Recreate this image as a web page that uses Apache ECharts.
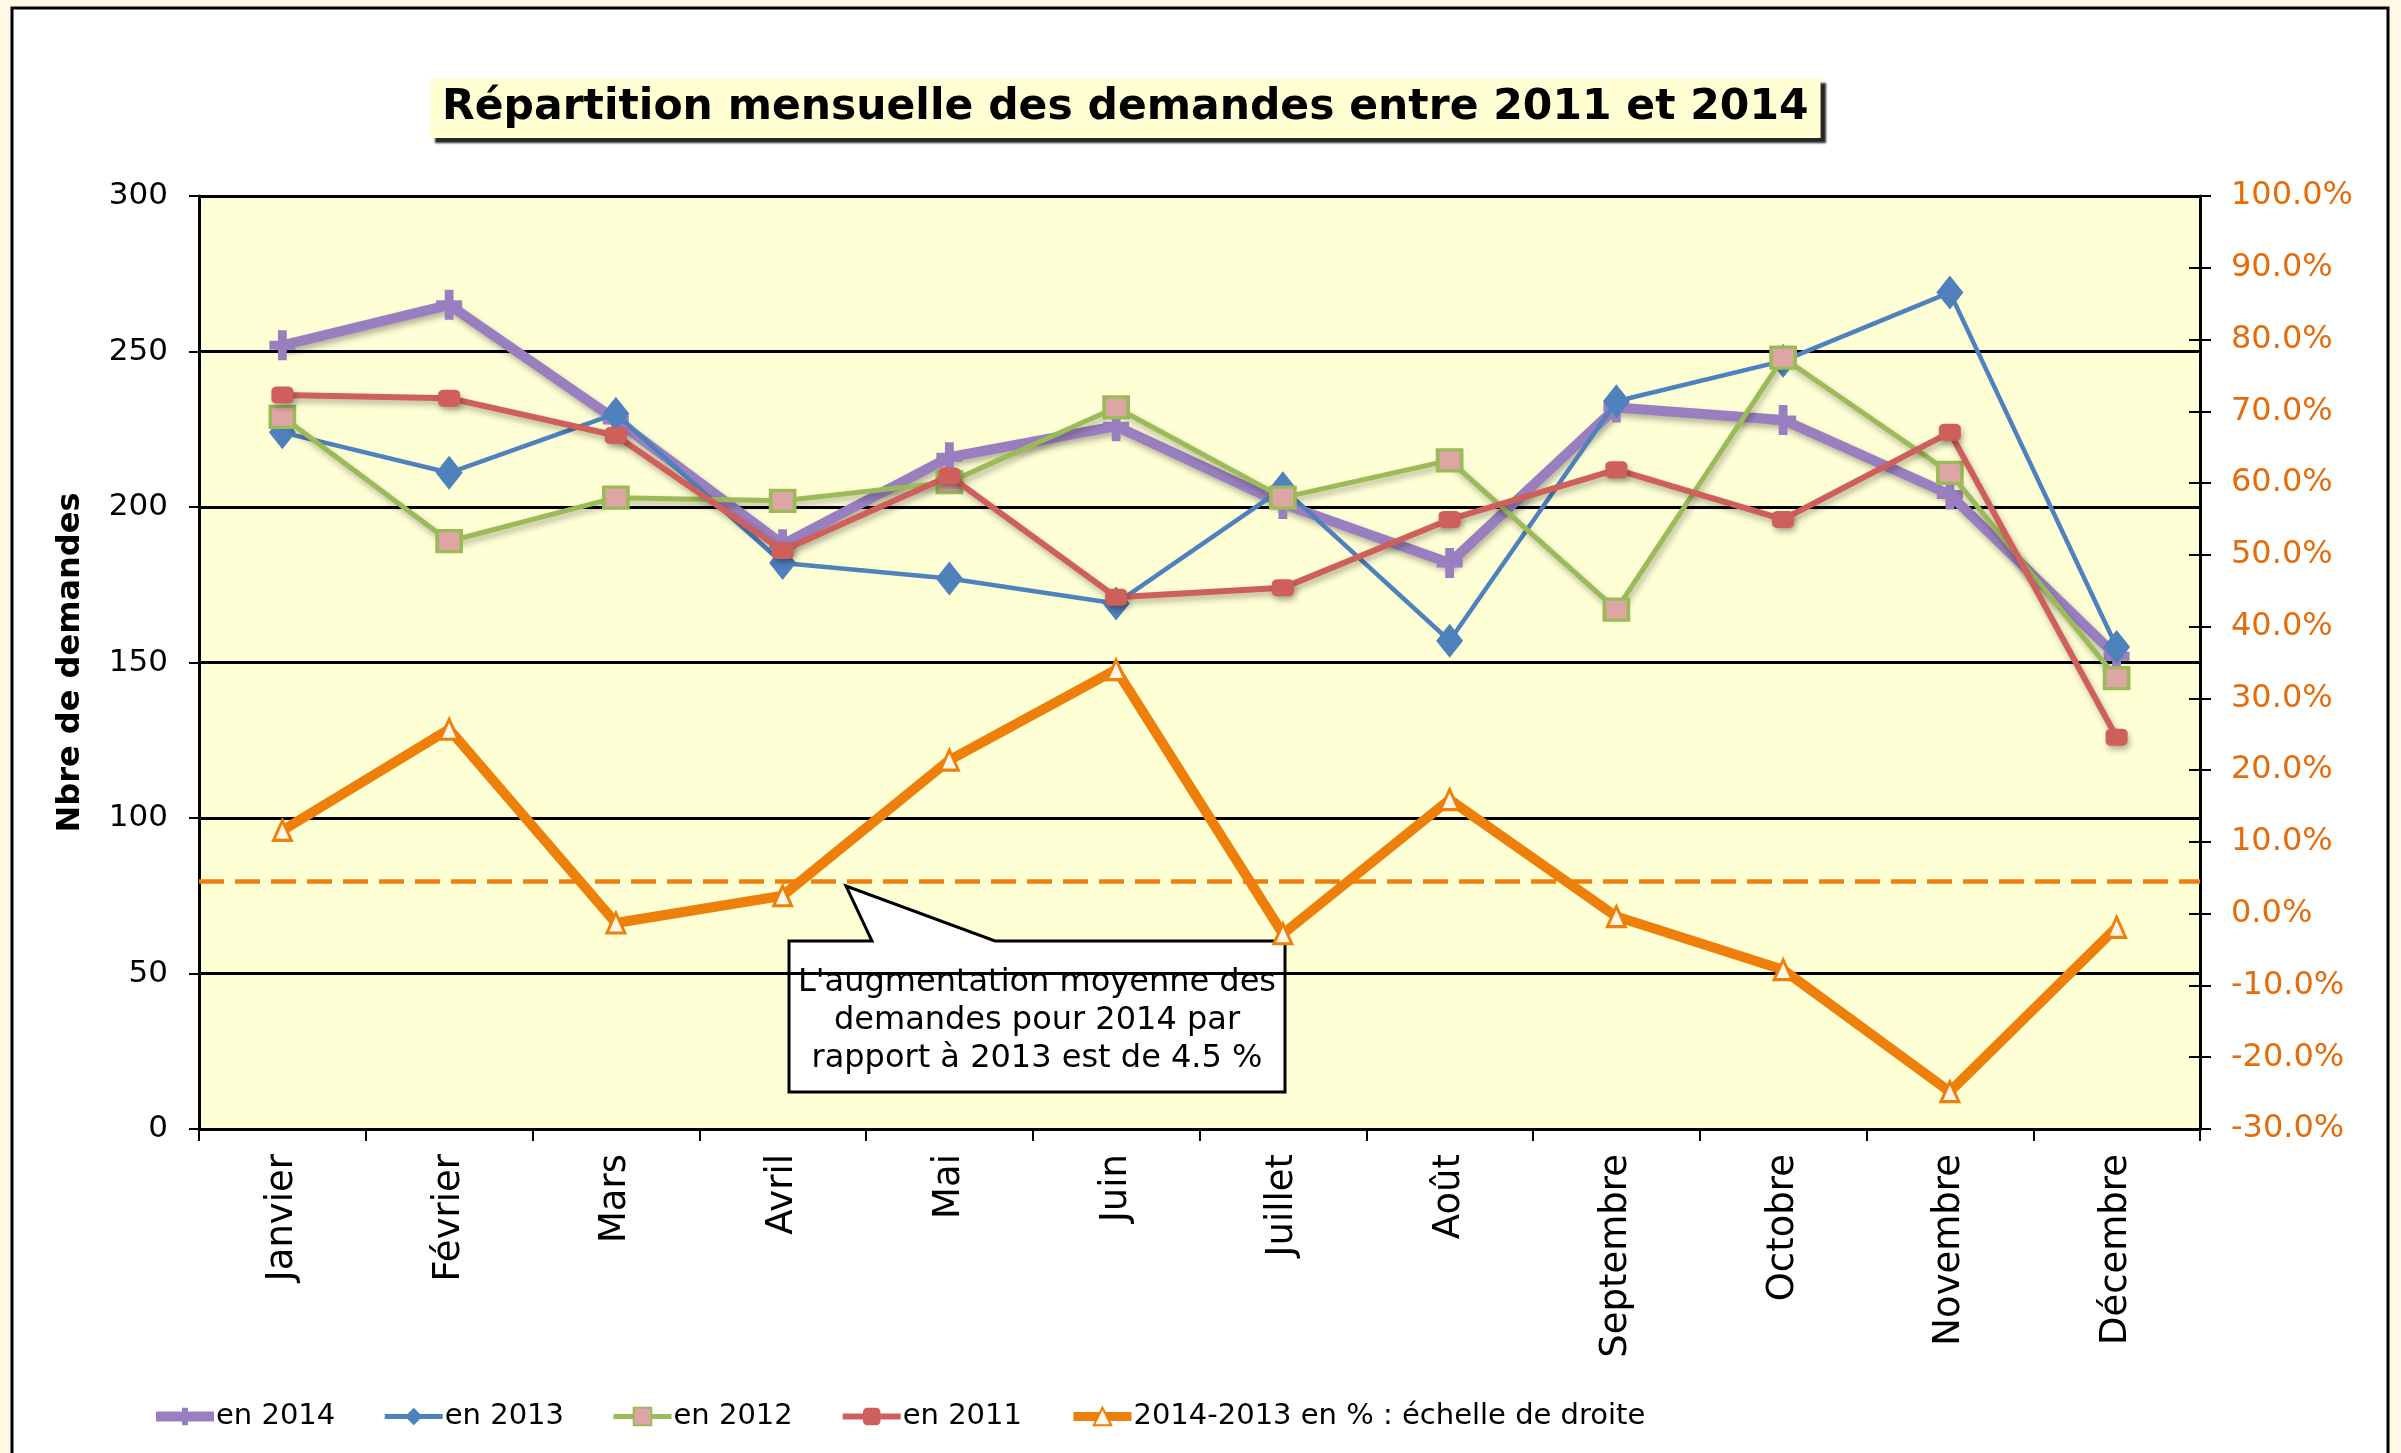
<!DOCTYPE html>
<html>
<head>
<meta charset="utf-8">
<script src="https://cdn.jsdelivr.net/npm/echarts@6/dist/echarts.min.js"></script>
<style>
html,body{margin:0;padding:0;background:#FFF8E7;}
#chart{width:2401px;height:1453px;}
</style>
</head>
<body>
<div id="chart"></div>
<script>
const categories = ['Janvier','Février','Mars','Avril','Mai','Juin','Juillet','Août','Septembre','Octobre','Novembre','Décembre'];
const v2014 = [252, 265, 228, 188, 216, 226, 201, 182, 232, 228, 204, 152];
const v2013 = [224, 211, 230, 182, 177, 169, 206, 157, 234, 247, 269, 155];
const v2012 = [229, 189, 203, 202, 208, 232, 203, 215, 167, 248, 211, 145];
const v2011 = [236, 235, 223, 186, 210, 171, 174, 196, 212, 196, 224, 126];
const pct20142013 = [11.6, 25.7, -1.3, 2.5, 21.4, 34.0, -2.8, 15.9, -0.4, -7.8, -24.8, -1.9];
const averagePct = 4.5;
const seriesNames = ['en 2014', 'en 2013', 'en 2012', 'en 2011', '2014-2013 en % : échelle de droite'];
const titleText = 'Répartition mensuelle des demandes entre 2011 et 2014';
const yAxisName = 'Nbre de demandes';
const calloutLines = ["L'augmentation moyenne des", 'demandes pour 2014 par', 'rapport à 2013 est de 4.5 %'];

const FONT = '"DejaVu Sans", Verdana, sans-serif';
const plusPath = 'path://M3.3,0H6.7V3.5H10V6.5H6.7V10H3.3V6.5H0V3.5H3.3Z';

const C2014 = '#9A7FC0', C2013 = '#4F81BD', C2012 = '#9BBB59', C2011 = '#CF5F5A', CPCT = '#EF7F0B';

const chart = echarts.init(document.getElementById('chart'), null, {renderer: 'canvas'});

const shadow = {shadowColor: 'rgba(0,0,0,0.3)', shadowBlur: 6, shadowOffsetX: 2, shadowOffsetY: 4};

const option = {
  backgroundColor: 'transparent',
  animation: false,
  textStyle: {fontFamily: FONT},
  graphic: [
    {type: 'rect', z: -10, silent: true,
     shape: {x: 12, y: 8, width: 2376, height: 1500},
     style: {fill: '#ffffff', stroke: '#000', lineWidth: 3}},
    {type: 'group', z: 100, silent: true, children: [
      {type: 'polygon', shape: {points: [[789,941],[872,941],[846,886],[995,941],[1285,941],[1285,1092],[789,1092]]},
       style: {fill: '#ffffff', stroke: '#000', lineWidth: 3}},
      {type: 'text', style: {x: 1037, y: 1021, text: calloutLines.join('\n'), fill: '#000',
        font: '32px ' + FONT, textAlign: 'center', textVerticalAlign: 'middle', lineHeight: 38}}
    ]}
  ],
  title: {
    text: titleText,
    left: 430, top: 78,
    padding: [5, 12, 5, 12],
    backgroundColor: '#FFFFD3',
    shadowColor: 'rgba(0,0,0,0.85)', shadowBlur: 2, shadowOffsetX: 5, shadowOffsetY: 5,
    textStyle: {fontFamily: FONT, fontWeight: 'bold', fontSize: 42.5, lineHeight: 50, color: '#000'}
  },
  legend: {
    left: 146, top: 1397,
    itemWidth: 58, itemHeight: 22, itemGap: 47,
    textStyle: {fontFamily: FONT, fontSize: 29, color: '#000', padding: [0,0,0,-3]},
    data: [
      {name: seriesNames[0], lineStyle: {width: 10}},
      {name: seriesNames[1], lineStyle: {width: 5}},
      {name: seriesNames[2], lineStyle: {width: 5}},
      {name: seriesNames[3], lineStyle: {width: 6}},
      {name: seriesNames[4], lineStyle: {width: 9}}
    ]
  },
  grid: {left: 199, right: 201, top: 196, bottom: 324, show: true, backgroundColor: '#FFFFD6', borderWidth: 0},
  xAxis: {
    type: 'category', data: categories, boundaryGap: true,
    axisLine: {lineStyle: {color: '#000', width: 3}},
    axisTick: {show: true, length: 12, lineStyle: {color: '#000', width: 2}},
    axisLabel: {rotate: 90, margin: 25, fontSize: 37, color: '#000', fontFamily: FONT, interval: 0}
  },
  yAxis: [
    {type: 'value', min: 0, max: 300, interval: 50, position: 'left',
     name: yAxisName, nameLocation: 'middle', nameGap: 112, nameRotate: 90,
     nameTextStyle: {fontFamily: FONT, fontWeight: 'bold', fontSize: 32, color: '#000'},
     axisLine: {show: true, lineStyle: {color: '#000', width: 3}},
     axisTick: {show: true, length: 10, lineStyle: {color: '#000', width: 2}},
     axisLabel: {margin: 31, fontSize: 31, color: '#000', fontFamily: FONT},
     splitLine: {show: true, lineStyle: {color: '#000', width: 3}}},
    {type: 'value', min: -30, max: 100, interval: 10, position: 'right',
     axisLine: {show: true, lineStyle: {color: '#000', width: 3}},
     axisTick: {show: true, length: 11, lineStyle: {color: '#000', width: 2}},
     axisLabel: {margin: 31, fontSize: 32, color: '#E46C0A', fontFamily: FONT,
       formatter: v => v.toFixed(1) + '%'},
     splitLine: {show: false}},
    {type: 'value', min: -30, max: 100, interval: 10, position: 'right',
     axisLine: {show: false},
     axisTick: {show: true, inside: true, length: 11, lineStyle: {color: '#000', width: 2}},
     axisLabel: {show: false}, splitLine: {show: false}}
  ],
  series: [
    {name: seriesNames[0], type: 'line', data: v2014, yAxisIndex: 0,
     symbol: plusPath, symbolSize: [26, 30],
     lineStyle: Object.assign({color: C2014, width: 10}, shadow),
     itemStyle: {color: C2014}, z: 2},
    {name: seriesNames[1], type: 'line', data: v2013, yAxisIndex: 0,
     symbol: 'diamond', symbolSize: [27, 34],
     lineStyle: {color: C2013, width: 4.5},
     itemStyle: {color: C2013}, z: 3},
    {name: seriesNames[2], type: 'line', data: v2012, yAxisIndex: 0,
     symbol: 'rect', symbolSize: [24, 21],
     lineStyle: Object.assign({color: C2012, width: 5}, shadow),
     itemStyle: {color: '#DDA5A3', borderColor: C2012, borderWidth: 3.5}, z: 4},
    {name: seriesNames[3], type: 'line', data: v2011, yAxisIndex: 0,
     symbol: 'roundRect', symbolSize: [22, 17],
     lineStyle: Object.assign({color: C2011, width: 6}, shadow),
     itemStyle: Object.assign({color: C2011}, shadow), z: 5},
    {name: seriesNames[4], type: 'line', data: pct20142013, yAxisIndex: 1,
     symbol: 'triangle', symbolSize: [18, 20],
     lineStyle: {color: CPCT, width: 10},
     itemStyle: {color: '#FFF6E8', borderColor: CPCT, borderWidth: 3}, z: 6,
     markLine: {silent: true, symbol: 'none', label: {show: false},
       lineStyle: {color: CPCT, type: [25, 11], width: 4.5},
       data: [{yAxis: averagePct}]}}
  ]
};
chart.setOption(option);
</script>
</body>
</html>
